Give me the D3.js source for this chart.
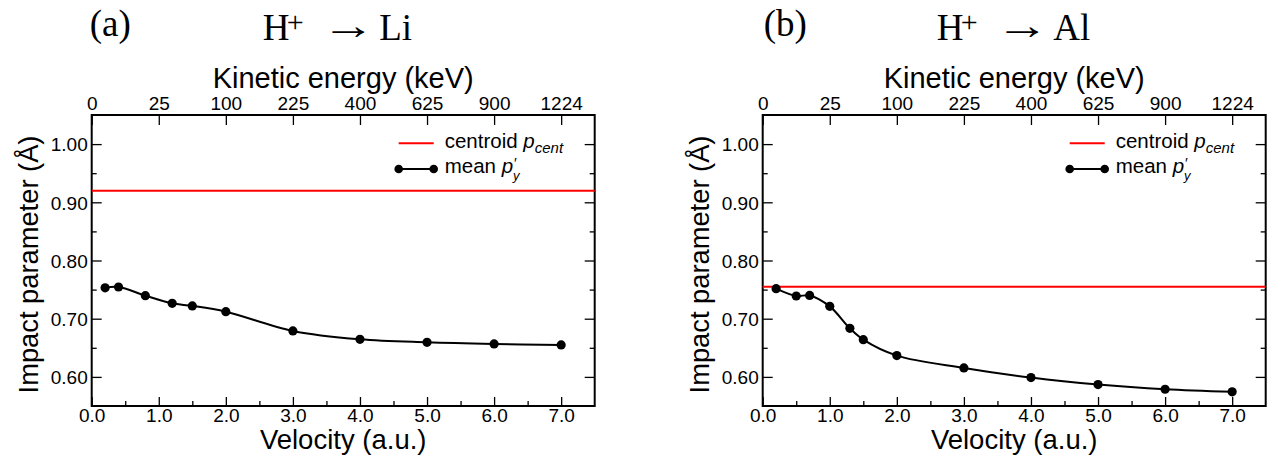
<!DOCTYPE html>
<html><head><meta charset="utf-8">
<script src="https://cdn.jsdelivr.net/npm/d3@7"></script>
<style>
body{margin:0;background:#fff;}
text{font-family:"Liberation Sans",Arial,Helvetica,sans-serif;fill:#000;}
.serif{font-family:"Liberation Serif","Times New Roman",serif;}
</style></head>
<body><svg id="c" width="1275" height="458"></svg>
<script>
// ---- data ----
const velA = [0.2, 0.4, 0.8, 1.2, 1.5, 2.0, 3.0, 4.0, 5.0, 6.0, 7.0];
const meanA = [0.753, 0.7545, 0.7396, 0.7264, 0.722, 0.712, 0.679, 0.6646, 0.6594, 0.6566, 0.655];
const centroidA = 0.920;
const velB = [0.2, 0.5, 0.7, 1.0, 1.3, 1.5, 2.0, 3.0, 4.0, 5.0, 6.0, 7.0];
const meanB = [0.7516, 0.739, 0.740, 0.7212, 0.6834, 0.664, 0.6366, 0.6154, 0.5988, 0.5868, 0.5788, 0.5743];
const centroidB = 0.755;
const velTicks = [0, 1, 2, 3, 4, 5, 6, 7];
const velMinor = [0.5, 1.5, 2.5, 3.5, 4.5, 5.5, 6.5];
const keLabels = ["0", "25", "100", "225", "400", "625", "900", "1224"];
const yTicks = [0.60, 0.70, 0.80, 0.90, 1.00];
const yMinor = [0.65, 0.75, 0.85, 0.95];
const panelLabels = ["(a)", "(b)"];
const targets = ["Li", "Al"];

const svg = d3.select("#c");
const panels = [
  {left: 91.7, vel: velA, mean: meanA, cent: centroidA, shift: 0},
  {left: 762.7, vel: velB, mean: meanB, cent: centroidB, shift: 3}
];
const W = 503, topY = 115, H = 291;

panels.forEach((p, i) => {
  const g = svg.append("g").attr("transform", `translate(${p.left},${topY})`);
  const x = d3.scaleLinear().domain([0, 7.5]).range([0, W]);
  const y = d3.scaleLinear().domain([0.55, 1.05]).range([H, 0]);

  const styleAxis = sel => {
    sel.select(".domain").remove();
    sel.selectAll(".tick line").attr("stroke", "#000").attr("stroke-width", 1.3);
    sel.selectAll(".tick text").style("font-size", "19px").style("font-family", "Liberation Sans, Arial, sans-serif");
  };
  // bottom
  g.append("g").attr("transform", `translate(0,${H})`)
    .call(d3.axisBottom(x).tickValues(velTicks).tickFormat(d3.format(".1f")).tickSizeInner(-9).tickSizeOuter(0))
    .call(styleAxis).selectAll(".tick text").attr("y", 2);
  g.append("g").attr("transform", `translate(0,${H})`)
    .call(d3.axisBottom(x).tickValues(velMinor).tickFormat("").tickSizeInner(-5).tickSizeOuter(0))
    .call(styleAxis);
  // top
  g.append("g")
    .call(d3.axisTop(x).tickValues(velTicks).tickFormat((d, k) => keLabels[k]).tickSizeInner(-10).tickSizeOuter(0))
    .call(styleAxis).selectAll(".tick text").attr("y", -5);
  // left
  g.append("g")
    .call(d3.axisLeft(y).tickValues(yTicks).tickFormat(d3.format(".2f")).tickSizeInner(-10).tickSizeOuter(0))
    .call(styleAxis).selectAll(".tick text").attr("x", -4).attr("dy", "0.36em");
  g.append("g")
    .call(d3.axisLeft(y).tickValues(yMinor).tickFormat("").tickSizeInner(-5).tickSizeOuter(0))
    .call(styleAxis);
  // right
  g.append("g").attr("transform", `translate(${W},0)`)
    .call(d3.axisRight(y).tickValues(yTicks).tickFormat("").tickSizeInner(-10).tickSizeOuter(0))
    .call(styleAxis);
  g.append("g").attr("transform", `translate(${W},0)`)
    .call(d3.axisRight(y).tickValues(yMinor).tickFormat("").tickSizeInner(-5).tickSizeOuter(0))
    .call(styleAxis);

  // frame
  g.append("rect").attr("x", 0).attr("y", 0).attr("width", W).attr("height", H)
    .attr("fill", "none").attr("stroke", "#000").attr("stroke-width", 2);

  // centroid line
  g.append("line").attr("x1", 0).attr("x2", W).attr("y1", y(p.cent)).attr("y2", y(p.cent))
    .attr("stroke", "#ff0000").attr("stroke-width", 2);

  // mean curve
  const pts = p.vel.map((v, k) => [v, p.mean[k]]);
  const line = d3.line().x(d => x(d[0])).y(d => y(d[1])).curve(d3.curveCatmullRom.alpha(0.5));
  g.append("path").datum(pts).attr("d", line).attr("fill", "none").attr("stroke", "#000").attr("stroke-width", 2);
  g.selectAll("circle.pt").data(pts).enter().append("circle").attr("class", "pt")
    .attr("cx", d => x(d[0])).attr("cy", d => y(d[1])).attr("r", 4.6).attr("fill", "#000");

  // legend
  const lx = W - 196;
  g.append("line").attr("x1", lx).attr("x2", lx + 35).attr("y1", 28.3).attr("y2", 28.3)
    .attr("stroke", "#ff0000").attr("stroke-width", 2);
  const t1 = g.append("text").attr("x", lx + 46).attr("y", 33).style("font-size", "20.5px");
  t1.append("tspan").text("centroid ");
  t1.append("tspan").text("p").style("font-style", "italic");
  t1.append("tspan").text("cent").style("font-style", "italic").style("font-size", "15px").attr("dy", 5);
  g.append("line").attr("x1", lx).attr("x2", lx + 35).attr("y1", 54).attr("y2", 54)
    .attr("stroke", "#000").attr("stroke-width", 2);
  g.selectAll("circle.lg").data([lx, lx + 35]).enter().append("circle").attr("class", "lg")
    .attr("cx", d => d).attr("cy", 54).attr("r", 4.3).attr("fill", "#000");
  const t2 = g.append("text").attr("x", lx + 46).attr("y", 58).style("font-size", "20.5px");
  t2.append("tspan").text("mean ");
  t2.append("tspan").text("p").style("font-style", "italic");
  t2.append("tspan").text("\u2032").style("font-size", "15px").attr("dy", -5).attr("dx", 1);
  t2.append("tspan").text("y").style("font-style", "italic").style("font-size", "13px").attr("dx", -4).attr("dy", 12);

  // axis titles
  g.append("text").attr("x", W / 2).attr("y", -27).attr("text-anchor", "middle")
    .style("font-size", "29px").text("Kinetic energy (keV)");
  g.append("text").attr("x", W / 2).attr("y", 333.5).attr("text-anchor", "middle")
    .style("font-size", "27.5px").text("Velocity (a.u.)");
  g.append("text").attr("transform", `translate(-53.5,${H / 2 + 4}) rotate(-90)`).attr("text-anchor", "middle")
    .style("font-size", "27.3px").text("Impact parameter (\u00C5)");

  // panel titles (serif)
  const sx = p.shift;
  g.append("text").attr("class", "serif").attr("x", -2 + sx).attr("y", 36 - topY)
    .style("font-size", "37px").text(panelLabels[i]);
  const tt = g.append("text").attr("class", "serif").attr("y", 40 - topY).style("font-size", "37px");
  tt.append("tspan").attr("x", 171 + sx).text("H");
  tt.append("tspan").attr("x", 195 + sx).attr("y", 32 - topY).style("font-size", "30px").text("+");
  g.append("text").attr("class", "serif")
    .attr("transform", `translate(${230 + sx},${39 - topY}) scale(1.45,1.1)`)
    .style("font-size", "37px").text("\u2192");
  g.append("text").attr("class", "serif").attr("x", 287.5 + sx).attr("y", 40 - topY)
    .style("font-size", "37px").text(targets[i]);
});
</script></body></html>
